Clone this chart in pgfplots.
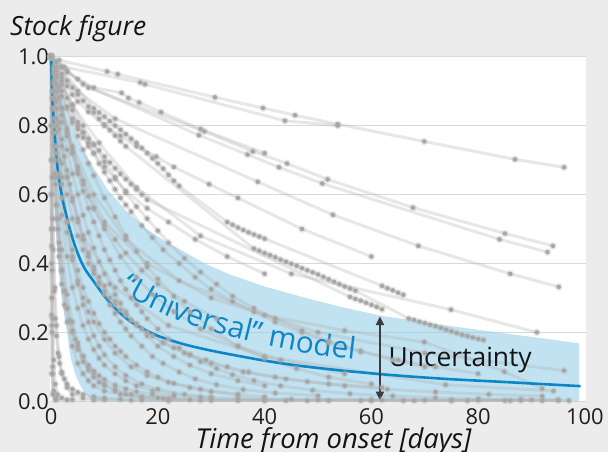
\documentclass[border=0pt]{standalone}
\usepackage{fontspec}
\setmainfont{Open Sans}
\usepackage{pgfplots}
\pgfplotsset{compat=1.18}
\usetikzlibrary{decorations.text, arrows.meta}

\definecolor{bgc}{HTML}{ECECEC}
\definecolor{gridc}{HTML}{D9D9D9}
\definecolor{bandc}{HTML}{8FCBE6}
\definecolor{lineg}{HTML}{B0B0B0}
\definecolor{dotg}{HTML}{A2A2A2}
\definecolor{modelblue}{HTML}{0B87C8}
\definecolor{arrowc}{HTML}{3C3C3C}

\pgfplotsset{
  obs/.style={draw=lineg, draw opacity=0.3, line width=3bp,
    mark=*, mark size=2.2bp, mark options={draw=none, fill=dotg, fill opacity=1}},
}

\begin{document}
\begin{tikzpicture}[x=1bp, y=1bp]
\fill[bgc] (-50,-50) rectangle (558,402);
\begin{axis}[
  at={(0,0)}, anchor=south west,
  scale only axis, width=536bp, height=346bp,
  xmin=-0.2, xmax=100.2, ymin=-0.002, ymax=1.002,
  axis background/.style={fill=white},
  axis line style={draw=none},
  major tick length=0pt,
  xtick={0,20,40,60,80,100},
  ytick={0,0.2,0.4,0.6,0.8,1.0},
  yticklabel style={/pgf/number format/fixed, /pgf/number format/fixed zerofill,
    /pgf/number format/precision=1, xshift=2.5bp},
  ymajorgrids, grid style={gridc, line width=1bp},
  tick label style={font=\fontsize{22}{24}\selectfont, text=black!88},
  /pgf/number format/assume math mode=true,
  xticklabel style={yshift=-3bp},
]
% uncertainty band
\addplot[draw=none, fill=bandc, fill opacity=0.55] coordinates {
  (0,1) (0.5,0.975) (1.5,0.925) (3,0.85) (4.5,0.78) (5.75,0.735) (8.2,0.672)
  (10.7,0.612) (14.2,0.55) (17.9,0.5) (21,0.468) (24.8,0.435) (29,0.398)
  (33.5,0.368) (40,0.333) (46,0.307) (54,0.275) (61.6,0.249) (67.2,0.236)
  (75,0.218) (85,0.197) (92,0.183) (98.9,0.168) (98.9,0)
  (9,0) (7.5,0.005) (6.5,0.02) (5.5,0.045) (4.5,0.08) (3.6,0.13) (3,0.2)
  (2,0.3) (1.2,0.42) (0.7,0.55) (0.3,0.75)
} -- cycle;

% observed stock series
\addplot[obs] coordinates {(0,1) (1.5,0.99) (10.5,0.957) (12.5,0.949) (30.7,0.882) (39.7,0.851) (45.7,0.83) (53.7,0.804) (69.9,0.754) (86.9,0.702) (96.1,0.679)};
\addplot[obs] coordinates {(0,1) (2.5,0.97) (16.7,0.925) (17.6,0.92) (43.8,0.814) (53.7,0.8)};
\addplot[obs] coordinates {(0,1) (3,0.96) (7,0.91) (28.7,0.783) (37.8,0.725) (44.2,0.69) (51.8,0.644) (67.8,0.562) (85,0.487) (94,0.451)};
\addplot[obs] coordinates {(0,1) (2,0.97) (6,0.92) (27.7,0.772) (36.8,0.716) (42.7,0.679) (50.8,0.632) (84,0.47) (93,0.433)};
\addplot[obs] coordinates {(0,1) (2,0.95) (5,0.9) (12,0.82) (38.7,0.637) (52.8,0.541) (68.8,0.451) (86,0.37) (95.1,0.332)};
\addplot[obs] coordinates {(0,1) (1,0.95) (4,0.86) (9,0.75) (16,0.62) (28,0.48) (45,0.37) (74.9,0.266) (91,0.2)};
\addplot[obs] coordinates {(0,1) (1.5,0.88) (4,0.74) (8,0.6) (14,0.47) (24,0.35) (40,0.25) (55,0.205) (69.9,0.172) (84.9,0.086) (92,0.037)};
\addplot[obs] coordinates {(0,1) (2,0.85) (5,0.68) (10,0.52) (18,0.4) (30,0.3) (50,0.2) (70,0.14) (96.1,0.089)};
\addplot[obs] coordinates {(0,1) (1,0.85) (3,0.65) (6,0.48) (12,0.33) (22,0.22) (40,0.13) (73.9,0.048) (94.1,0.03)};
\addplot[obs] coordinates {(0,1) (1,0.985) (2,0.97) (3,0.955) (5,0.935) (8,0.91) (13.2,0.895) (14.5,0.88) (16.5,0.867) (20.6,0.839) (28,0.79) (40,0.72)};
\addplot[obs] coordinates {(0,1) (1,0.97) (2,0.94) (3,0.915) (4,0.89) (5,0.87) (7,0.84) (10,0.8) (13,0.77) (16,0.74) (19.7,0.71) (23,0.68) (29.6,0.63) (35,0.59) (47,0.5) (60,0.42)};
\addplot[obs] coordinates {(0,1) (0.5,0.97) (1,0.94) (1.5,0.91) (2,0.885) (3,0.85) (4,0.82) (5,0.79) (6,0.765) (7,0.74) (8,0.72) (10,0.68) (12,0.645) (14,0.61) (18,0.56) (22,0.52) (27,0.47) (33,0.42) (40,0.37)};
\addplot[obs] coordinates {(0,1) (0.5,0.95) (1,0.9) (2,0.83) (3,0.77) (4,0.72) (5,0.67) (6,0.63) (7,0.595) (8,0.56) (10,0.51) (12,0.47) (14,0.43) (17,0.38) (20,0.34) (25,0.29) (31,0.24)};
\addplot[obs] coordinates {(0,1) (1,0.92) (2,0.85) (3,0.79) (4,0.73) (6,0.64) (8,0.56) (10,0.5) (13,0.42) (16,0.36) (19,0.31) (23,0.26) (28,0.21) (35,0.16) (43,0.12) (55,0.08)};
\addplot[obs] coordinates {(0,1) (0.3,0.9) (0.6,0.82) (1,0.74) (1.5,0.66) (2,0.59) (3,0.49) (4,0.41) (5,0.35) (6,0.3) (7,0.26) (8,0.23) (10,0.18) (12,0.14) (15,0.1) (18,0.075) (22,0.055) (28,0.035) (35,0.02)};
\addplot[obs] coordinates {(0,1) (0.5,0.8) (1,0.65) (1.5,0.53) (2,0.44) (3,0.31) (4,0.23) (5,0.17) (6,0.13) (7,0.1) (8,0.08) (10,0.05) (12,0.035) (15,0.02) (20,0.01)};
\addplot[obs] coordinates {(0,1) (0.2,0.7) (0.4,0.5) (0.7,0.33) (1,0.22) (1.5,0.13) (2,0.08) (3,0.04) (4,0.02) (6,0.01) (10,0.005)};
\addplot[obs] coordinates {(0,1) (0.1,0.6) (0.2,0.38) (0.3,0.24) (0.5,0.12) (0.8,0.05) (1.2,0.02) (2,0.01) (4,0.005)};
\addplot[obs] coordinates {(0,1) (0.05,0.5) (0.1,0.25) (0.2,0.08) (0.4,0.02) (1,0.005) (3,0.004) (8,0.004) (15,0.003) (22,0.003) (30,0.003) (40,0.002) (48,0.002) (58,0.002) (66,0.002) (75,0.002) (85,0.002) (92,0.002) (97,0.002)};
\addplot[obs] coordinates {(0,1) (0.5,0.85) (1,0.72) (2,0.54) (3,0.42) (4,0.33) (5,0.27) (6,0.22) (7,0.18) (8,0.15) (9,0.125) (10,0.105) (12,0.08) (14,0.06) (16,0.045) (19,0.03) (23,0.02) (28,0.012) (35,0.008) (45,0.006) (60,0.005) (75,0.004) (90,0.004)};
\addplot[obs] coordinates {(0,1) (1,0.9) (2,0.81) (3,0.73) (4,0.66) (5,0.6) (6,0.54) (7,0.49) (8,0.445) (9,0.405) (10,0.37) (11,0.34) (12,0.31) (13,0.285) (14,0.26) (16,0.22) (18,0.19) (20,0.16) (23,0.13) (26,0.105) (30,0.08) (35,0.06) (40,0.045)};
\addplot[obs] coordinates {(0,1) (1,0.95) (2,0.9) (3,0.855) (4,0.81) (5,0.77) (6,0.73) (7,0.69) (8,0.655) (10,0.59) (12,0.535) (14,0.48) (16,0.435) (18,0.39) (20,0.355) (23,0.305) (26,0.26) (30,0.21) (35,0.16) (40,0.125) (46,0.095) (52,0.07) (60,0.05)};
\addplot[obs] coordinates {(0,1) (0.5,0.92) (1,0.85) (1.5,0.79) (2,0.74) (3,0.65) (4,0.58) (5,0.52) (6,0.47) (7,0.43) (8,0.39) (9,0.36) (10,0.335) (12,0.29) (14,0.255) (16,0.225) (18,0.2) (21,0.17) (25,0.14) (30,0.11) (36,0.085) (44,0.065) (52,0.05) (62,0.04)};
\addplot[obs] coordinates {(0,1) (0.5,0.9) (1,0.8) (2,0.65) (3,0.52) (4,0.42) (5,0.34) (6,0.28) (7,0.23) (8,0.19) (9,0.16) (10,0.135) (12,0.1) (14,0.075) (17,0.05) (20,0.035) (25,0.02) (30,0.012)};
\addplot[obs] coordinates {(0,1) (1,0.96) (2,0.92) (3,0.88) (4,0.845) (5,0.81) (6,0.78) (7,0.75) (8,0.72) (9,0.69) (10,0.665) (11,0.64) (12,0.615) (13,0.59) (14,0.57) (15,0.55) (17,0.51) (19,0.475) (21,0.44) (24,0.4) (27,0.36) (30,0.325) (34,0.29) (38,0.26) (42,0.23) (47,0.2) (52,0.17) (58,0.145) (65,0.12) (72,0.1) (80,0.08)};
\addplot[obs] coordinates {(0,1) (0.3,0.8) (0.6,0.66) (1,0.53) (1.5,0.42) (2,0.34) (2.5,0.28) (3,0.23) (4,0.16) (5,0.11) (6,0.08) (7,0.06) (8,0.045) (10,0.03) (13,0.02) (17,0.012) (22,0.008) (30,0.006) (40,0.005) (50,0.004) (62,0.004) (70,0.003) (80,0.003) (88,0.003) (95,0.003)};
\addplot[obs] coordinates {(0,1) (2,0.93) (4,0.86) (6,0.8) (8,0.745) (10,0.695) (12,0.65) (14,0.605) (16,0.565) (18,0.53) (20,0.495) (22,0.46) (25,0.415) (28,0.375) (31,0.34) (34,0.305) (38,0.27) (42,0.24) (47,0.205) (52,0.175) (58,0.145) (64,0.12) (70,0.1)};
\addplot[obs] coordinates {(0,1) (0.25,0.85) (0.5,0.74) (0.75,0.65) (1,0.57) (1.5,0.46) (2,0.38) (2.5,0.32) (3,0.27) (3.5,0.23) (4,0.2) (5,0.15) (6,0.115) (7,0.09) (8,0.07) (9,0.055) (10,0.045) (12,0.03) (14,0.02) (17,0.012) (21,0.008) (26,0.005)};
\addplot[obs] coordinates {(0,1) (0.5,0.93) (1,0.87) (1.5,0.81) (2,0.76) (2.5,0.71) (3,0.67) (3.5,0.63) (4,0.59) (5,0.53) (6,0.47) (7,0.42) (8,0.38) (9,0.34) (10,0.31) (11,0.28) (12,0.255) (13,0.23) (14,0.21) (15,0.19) (17,0.16) (19,0.13) (21,0.11) (24,0.085) (27,0.065) (31,0.048) (36,0.034) (42,0.024) (50,0.016)};
\addplot[obs] coordinates {(0,1) (0.2,0.88) (0.4,0.78) (0.6,0.7) (0.8,0.63) (1,0.57) (1.3,0.5) (1.6,0.44) (2,0.38) (2.5,0.32) (3,0.27) (3.5,0.235) (4,0.205) (4.5,0.18) (5,0.16) (6,0.13) (7,0.105) (8,0.088) (9,0.074) (10,0.063) (12,0.047) (14,0.036) (16,0.028) (19,0.02) (23,0.014)};
\addplot[obs] coordinates {(0,1) (0.5,0.96) (1,0.92) (2,0.85) (3,0.78) (4,0.72) (5,0.66) (6,0.61) (7,0.56) (8,0.52) (9,0.48) (10,0.44) (11,0.41) (12,0.38) (13,0.35) (14,0.325) (15,0.3) (16,0.28) (17,0.26) (18,0.24) (20,0.21) (22,0.18) (24,0.155) (26,0.135) (28,0.115) (31,0.095) (34,0.077) (38,0.06) (43,0.045) (49,0.032) (56,0.022) (64,0.015) (72,0.01) (80,0.007) (88,0.005) (95,0.004)};
\addplot[obs] coordinates {(0,1) (0.1,0.8) (0.2,0.65) (0.3,0.53) (0.4,0.44) (0.6,0.32) (0.8,0.24) (1,0.19) (1.3,0.14) (1.6,0.11) (2,0.085) (2.5,0.065) (3,0.05) (4,0.035) (5,0.026) (6,0.02) (8,0.013) (10,0.009) (13,0.006) (17,0.004) (22,0.003) (28,0.003) (35,0.002) (44,0.002) (52,0.002) (60,0.002) (68,0.002) (78,0.002) (86,0.002)};
\addplot[obs] coordinates {(0,1) (0.05,0.7) (0.1,0.45) (0.15,0.3) (0.2,0.2) (0.3,0.1) (0.5,0.03) (1,0.01)};
\addplot[obs] coordinates {(0,1) (0.03,0.8) (0.06,0.6) (0.1,0.4) (0.15,0.22) (0.25,0.08) (0.4,0.02) (0.8,0.005)};
\addplot[obs] coordinates {(0,1) (1,0.82) (2,0.69) (3,0.6) (4,0.53) (5,0.48) (6,0.44) (7,0.4) (8,0.37) (9,0.345) (10,0.32) (11,0.3) (12,0.28) (13,0.265) (14,0.25) (15,0.235) (17,0.21) (19,0.19) (21,0.17) (23,0.155) (26,0.135) (29,0.12) (33,0.1) (37,0.085) (42,0.07) (48,0.057) (55,0.045) (63,0.035) (72,0.027) (82,0.02) (92,0.015)};
\addplot[obs] coordinates {(0,1) (0.5,0.88) (1,0.78) (1.5,0.7) (2,0.63) (3,0.52) (4,0.44) (5,0.38) (6,0.33) (7,0.29) (8,0.255) (9,0.225) (10,0.2) (11,0.18) (12,0.16) (13,0.145) (14,0.13) (16,0.105) (18,0.085) (20,0.07) (23,0.052) (26,0.04) (30,0.028) (35,0.019) (40,0.013)};
% daily-sampled series
\addplot[obs] coordinates {(0,1) (8,0.85) (9,0.838) (10,0.826) (11,0.813) (12,0.8) (13,0.788) (14,0.775) (15,0.762) (16,0.75) (17,0.735) (18,0.72) (19,0.705) (20,0.69) (21,0.675) (22,0.657) (23,0.64) (24,0.625) (33,0.52) (34,0.512) (35,0.504) (36,0.497) (37,0.49) (38,0.484) (39,0.478) (40,0.472) (62,0.335) (63,0.328) (64,0.322) (65,0.315) (66,0.309)};
\addplot[obs] coordinates {(0,1) (3,0.93) (4,0.91) (5,0.89) (6,0.872) (7,0.855) (8,0.838) (9,0.82) (10,0.803) (11,0.787) (12,0.771) (13,0.755) (14,0.74) (38,0.443) (39,0.437) (40,0.43) (41,0.424) (42,0.418) (43,0.411) (44,0.405) (45,0.399) (46,0.393) (47,0.386) (48,0.38) (49,0.374) (50,0.368) (51,0.361) (52,0.354) (53,0.347) (54,0.34) (55,0.333) (56,0.327) (57,0.321) (67,0.24) (68,0.236) (69,0.231) (70,0.227) (71,0.222) (72,0.218) (73,0.213) (74,0.208) (75,0.203) (76,0.198) (77,0.193) (78,0.189) (79,0.185) (80,0.181) (81,0.178)};
\addplot[obs] coordinates {(0,1) (5,0.8) (6,0.78) (7,0.762) (8,0.745) (9,0.728) (10,0.71) (11,0.693) (12,0.676) (13,0.66) (14,0.645) (15,0.63) (16,0.615) (17,0.6) (18,0.585) (56,0.303) (57,0.297) (58,0.292) (59,0.286) (60,0.28) (61,0.274) (62,0.267)};

% universal model
\addplot[modelblue, line width=2.6bp, smooth, tension=0.4] coordinates {
  (0,1) (0.2,0.9) (0.43,0.825) (0.8,0.75) (1.2,0.68) (1.69,0.625) (2.3,0.575)
  (2.94,0.535) (3.6,0.495) (4.5,0.45) (5.5,0.41) (6.5,0.38) (7.9,0.35)
  (10,0.305) (12.5,0.262) (15.4,0.226) (20,0.19) (25,0.165) (30,0.147)
  (35,0.132) (40,0.118) (46,0.104) (54,0.09) (61.6,0.079) (67.2,0.072)
  (75,0.064) (85,0.056) (92,0.05) (99.2,0.044)
};

\draw[arrowc, line width=2.2bp, {Triangle[length=9bp,width=8bp]}-{Triangle[length=9bp,width=8bp]}]
  (axis cs:61.6,0.002) -- (axis cs:61.6,0.247);
\node[anchor=base west, font=\fontsize{26.5}{28}\selectfont, text=black!92, inner sep=0pt]
  at (axis cs:63.2,0.1) {Uncertainty};
\path[decorate, decoration={text along path, text align=left,
  text={|\fontsize{30}{32}\selectfont\color{modelblue}|“Universal” model}}]
  (axis cs:12.8,0.322) .. controls (axis cs:22.3,0.225) and (axis cs:39.1,0.138) .. (axis cs:66,0.108);
\end{axis}
\node[anchor=base west, font=\itshape\fontsize{26.5}{28}\selectfont, text=black!92, inner sep=0pt] at (-40,366) {Stock figure};
\node[anchor=base, font=\itshape\fontsize{27.5}{29}\selectfont, text=black!92, inner sep=0pt] at (283.5,-47) {Time from onset [days]};
\pgfresetboundingbox
\path (-50,-50) rectangle (558,402);
\end{tikzpicture}
\end{document}
